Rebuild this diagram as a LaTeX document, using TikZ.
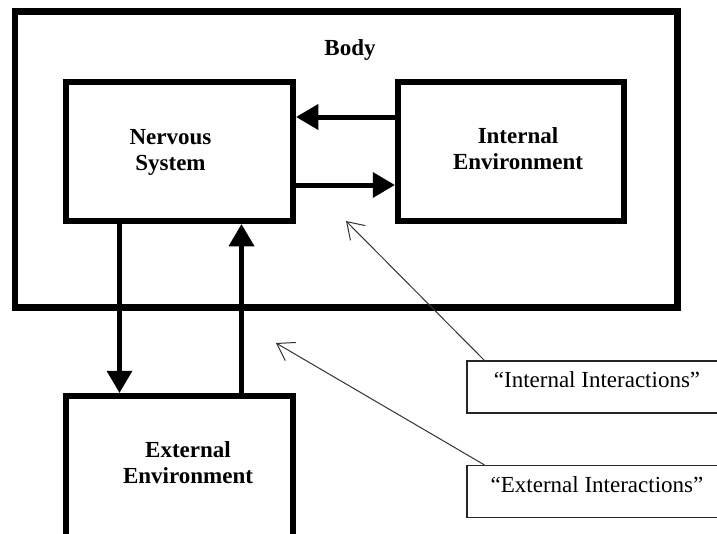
\documentclass[tikz,border=0pt]{standalone}
\usepackage{fontspec}
\setmainfont{Liberation Serif}
\usetikzlibrary{arrows.meta}
\tikzset{
  box/.style={draw, line width=6.5pt, minimum width=227pt, minimum height=139pt, inner sep=0pt},
  lbl/.style={font=\fontsize{23}{26}\selectfont\bfseries, align=center},
  notebox/.style={draw=black!85, line width=1.2pt, minimum width=260pt, minimum height=52pt,
    inner sep=0pt, font=\fontsize{23}{26}\selectfont, text height=16pt, text depth=15pt},
  bigarrow/.style={line width=5pt, -{Triangle[width=26pt,length=22pt,line width=0pt]}},
  thinarrow/.style={draw=black!80, line width=1pt, -{Straight Barb[length=16pt,width=21pt]}},
}
\begin{document}
\begin{tikzpicture}[x=1pt, y=-1pt]
\clip (0,0) rectangle (717,533);
\fill[white] (0,0) rectangle (717,533);
\node[box, minimum width=662.5pt, minimum height=296pt] (body) at (346.25,159.5) {};
\node[lbl, anchor=base] (bodytext) at (350,55) {Body};
\node[box] (nervous) at (179.5,151.5) {};
\node[lbl] (nervoustext) at (170.5,152) {Nervous\\System};
\node[box, minimum width=226pt] (intenv) at (511,151.5) {};
\node[lbl] (intenvtext) at (518,148.5) {Internal\\Environment};
\node[box, minimum height=150pt] (extenv) at (179.5,471) {};
\node[lbl] (extenvtext) at (188,462.5) {External\\Environment};
\draw[bigarrow] ([yshift=34.5pt]intenv.west) -- ([yshift=34.5pt]nervous.east);
\draw[bigarrow] ([yshift=-33.5pt]nervous.east) -- ([yshift=-33.5pt]intenv.west);
\draw[bigarrow] ([xshift=-60pt]nervous.south) -- ([xshift=-60pt]extenv.north);
\draw[bigarrow] ([xshift=62pt]extenv.north) -- ([xshift=62pt]nervous.south);
\node[notebox] (intnote) at (597,387) {“Internal Interactions”};
\node[notebox] (extnote) at (597,491.5) {“External Interactions”};
\coordinate (intpt) at (346,221);
\coordinate (extpt) at (276,343);
\draw[thinarrow] ([xshift=18pt]intnote.north west) -- (intpt);
\draw[thinarrow] ([xshift=18pt]extnote.north west) -- (extpt);
\end{tikzpicture}
\end{document}
